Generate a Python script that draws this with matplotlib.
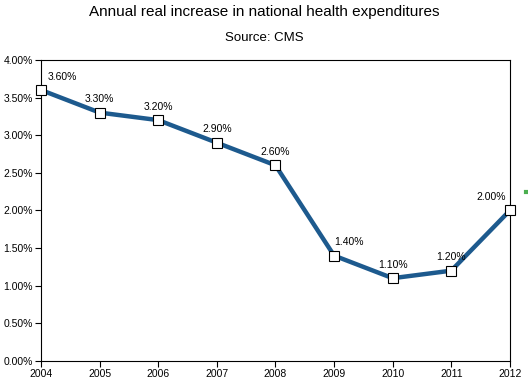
import matplotlib
matplotlib.use("Agg")
import matplotlib.pyplot as plt
from matplotlib.ticker import FuncFormatter
from matplotlib.lines import Line2D

years = [2004, 2005, 2006, 2007, 2008, 2009, 2010, 2011, 2012]
increase = [3.60, 3.30, 3.20, 2.90, 2.60, 1.40, 1.10, 1.20, 2.00]
yticks = [0.0, 0.5, 1.0, 1.5, 2.0, 2.5, 3.0, 3.5, 4.0]

plt.rcParams['font.family'] = ['Liberation Sans', 'DejaVu Sans']

fig = plt.figure(figsize=(5.28, 3.87), dpi=100)
ax = fig.add_axes([0.0777, 0.0672, 0.888, 0.778])

ax.plot(years, increase, color='#1d5a8e', lw=3.2, marker='s', ms=7,
        mfc='white', mec='black', mew=0.8, clip_on=False, zorder=3)

# value labels: first and 2009 sit to the right, last one to the left
for i, (x, v) in enumerate(zip(years, increase)):
    dx, ha = 0, 'center'
    if i == 0:
        dx, ha = 5, 'left'
    elif x == 2009:
        dx, ha = 0, 'left'
    elif i == len(years) - 1:
        dx, ha = -3, 'right'
    ax.annotate('%.2f%%' % v, (x, v), xytext=(dx, 6), textcoords='offset points',
                ha=ha, va='bottom', fontsize=7.5)

ax.set_xlim(2004, 2012)
ax.set_ylim(0, 4)
ax.set_xticks(years)
ax.set_yticks(yticks)
ax.yaxis.set_major_formatter(FuncFormatter(lambda v, p: '%.2f%%' % v))
ax.tick_params(labelsize=7.5, length=4, width=0.8, direction='out', pad=2)
for s in ax.spines.values():
    s.set_linewidth(0.8)

fig.text(0.5, 0.968, 'Annual real increase in national health expenditures',
         ha='center', va='center', fontsize=11)
fig.text(0.5, 0.902, 'Source: CMS', ha='center', va='center', fontsize=9.5)

# cut-off legend key at the right edge
fig.add_artist(Line2D([0.997, 1.0], [0.504, 0.504], color='#4caf50', lw=3,
                      transform=fig.transFigure))

fig.savefig('out.png', dpi=100)
